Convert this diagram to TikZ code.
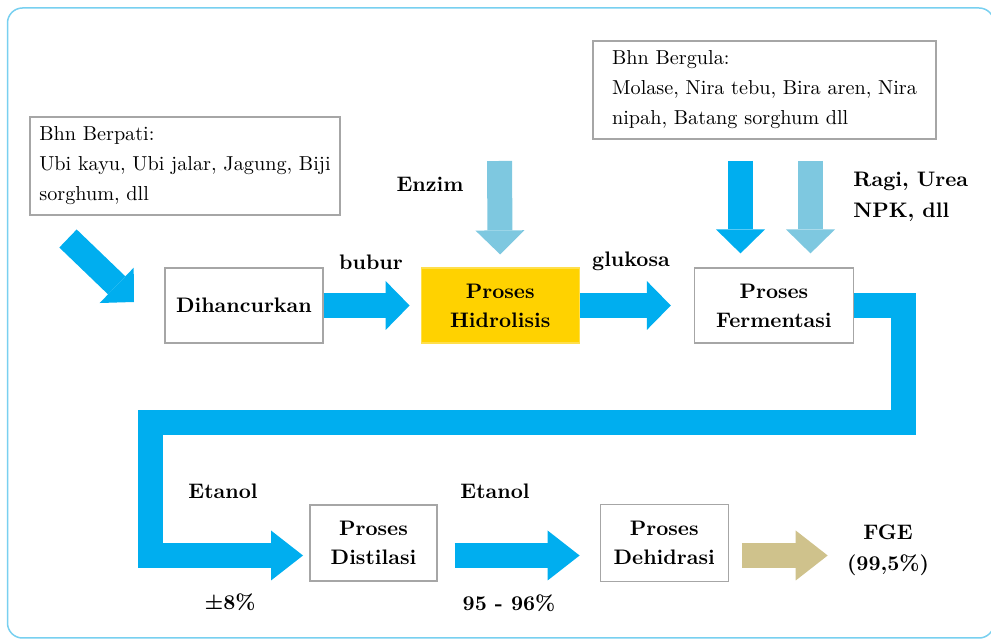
\documentclass[tikz,border=0pt]{standalone}
\usepackage{fontspec}
\usepackage{xcolor}
\usepackage{tikz}
\usetikzlibrary{arrows.meta,calc,positioning}

\definecolor{arrowblue}{RGB}{0,174,239}
\definecolor{enzimblue}{RGB}{126,200,224}
\definecolor{fgetan}{RGB}{207,194,140}
\definecolor{hidroyellow}{RGB}{255,210,0}
\definecolor{framecyan}{RGB}{120,208,240}

\begin{document}
\begin{tikzpicture}[
      x=0.5pt, y=-0.5pt,
      box/.style={draw=black!35, line width=0.6pt, align=center, inner sep=0pt},
      srcbox/.style={box, minimum height=49pt, align=left,
        font=\fontsize{10.1}{15}\selectfont},
      stepbox/.style={box, fill=white, minimum width=79pt, minimum height=37.5pt,
        font=\fontsize{10.5}{14.5}\selectfont\bfseries},
      textlabel/.style={inner sep=0pt, align=left,
        font=\fontsize{10.5}{15.5}\selectfont\bfseries},
      fatarrow/.style={line width=12.5pt, draw=arrowblue,
        -{Triangle[length=12pt, width=24.5pt, line width=0pt]}},
      longarrow/.style={fatarrow, -{Triangle[length=16pt, width=25pt, line width=0pt]}}
    ]
    \useasboundingbox (0,0) rectangle (991,640);
    \draw[framecyan, line width=0.75pt, rounded corners=7.5pt] (7.5,8) rectangle (994,638);

    % bahan baku
    \node[srcbox, minimum width=155pt] (berpati) at (185,166)
      {Bhn Berpati:\\Ubi kayu, Ubi jalar, Jagung, Biji\\sorghum, dll};
    \node[srcbox, minimum width=171.5pt] (bergula) at (764.5,90)
      {Bhn Bergula:\\Molase, Nira tebu, Bira aren, Nira\\nipah, Batang sorghum dll};

    % proses atas
    \node[stepbox] (dihancur) at (244,305.5) {Dihancurkan};
    \node[stepbox, fill=hidroyellow, draw=hidroyellow!70, right=48.5pt of dihancur]
      (hidrolisis) {Proses\\Hidrolisis};
    \node[stepbox, minimum width=79.5pt, right=57pt of hidrolisis]
      (fermentasi) {Proses\\Fermentasi};

    % proses bawah
    \node[stepbox, minimum width=63.5pt, minimum height=38pt] (distilasi) at (373.5,543)
      {Proses\\Distilasi};
    \node[stepbox, minimum width=64pt, minimum height=38.5pt, right=81pt of distilasi]
      (dehidrasi) {Proses\\Dehidrasi};

    \node[textlabel] (enzim) at (430,184) {Enzim};
    \node[textlabel] (bubur) at (371,262) {bubur};
    \node[textlabel] (glukosa) at (631,261) {glukosa};
    \node[textlabel, anchor=west] (ragi) at (853,197) {Ragi, Urea\\NPK, dll};
    \node[textlabel] (etanolA) at (223,491) {Etanol};
    \node[textlabel] (kadarA) at (230,602) {±8\%};
    \node[textlabel] (etanolB) at (495,491) {Etanol};
    \node[textlabel] (kadarB) at (509,603) {95 - 96\%};
    \node[textlabel, align=center] (fge) at (888,550) {FGE\\(99,5\%)};

    \coordinate (berpatiOut) at (68,238.5);
    \coordinate (dihancurIn) at (134,302);
    \coordinate (enzimIn) at (499.5,161);
    \coordinate (gulaIn) at (740.5,161);
    \coordinate (ragiIn) at (810.5,161);
    \coordinate (loopRight) at (903.5,422.5);
    \coordinate (loopLeft) at (150.5,422.5);
    \coordinate (distilasiIn) at (303,555.5);
    \coordinate (distilasiOut) at ([yshift=-6.25pt]distilasi.east);
    \coordinate (dehidrasiOut) at ([yshift=-6.25pt]dehidrasi.east);

    \draw[fatarrow] (berpatiOut) -- (dihancurIn);
    \draw[fatarrow, shorten >=5.5pt] (dihancur.east) -- (hidrolisis.west);
    \draw[fatarrow, shorten >=11.5pt] (hidrolisis.east) -- (fermentasi.west);
    \draw[fatarrow, draw=enzimblue, shorten >=6.5pt] (enzimIn) -- (hidrolisis.north);
    \draw[fatarrow, shorten >=7pt] (gulaIn) -- (fermentasi.north -| gulaIn);
    \draw[fatarrow, draw=enzimblue, shorten >=7pt] (ragiIn) -- (fermentasi.north -| ragiIn);
    \draw[longarrow, line join=miter] (fermentasi.east) -| (loopRight) -- (loopLeft) |- (distilasiIn);
    \draw[longarrow, shorten <=8.5pt, shorten >=10pt] (distilasiOut) -- (distilasiOut -| dehidrasi.west);
    \draw[longarrow, draw=fgetan, shorten <=6.5pt, shorten >=9.5pt] (dehidrasiOut) -- (dehidrasiOut -| fge.west);
  \end{tikzpicture}
\end{document}
